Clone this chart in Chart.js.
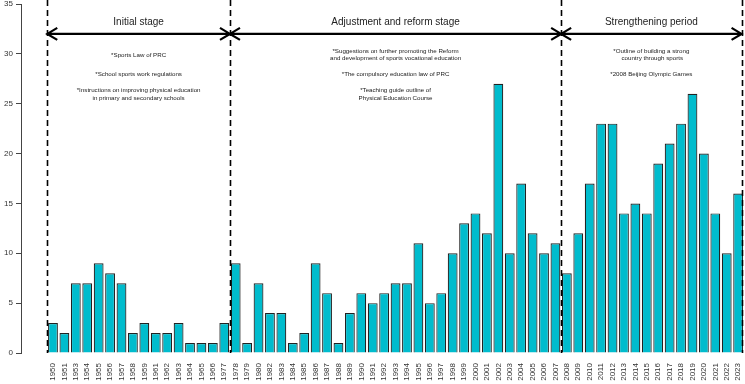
<!DOCTYPE html>
<html>
<head>
<meta charset="utf-8">
<script src="https://cdn.jsdelivr.net/npm/chart.js@4.4.0/dist/chart.umd.min.js"></script>
<style>
  html, body { margin: 0; padding: 0; background: #fff; }
  #wrap { width: 745px; height: 384px; position: relative; }
</style>
</head>
<body>
<div id="wrap"><canvas id="policyChart"></canvas></div>
<script>
// Years shown on the x axis (gaps in the record are skipped, as in the original)
const years = ['1950', '1951', '1953', '1954', '1955', '1956', '1957', '1958', '1959', '1961',
               '1962', '1963', '1964', '1965', '1966', '1977', '1978', '1979', '1980', '1982',
               '1983', '1984', '1985', '1986', '1987', '1988', '1989', '1990', '1991', '1992',
               '1993', '1994', '1995', '1996', '1997', '1998', '1999', '2000', '2001', '2002',
               '2003', '2004', '2005', '2006', '2007', '2008', '2009', '2010', '2011', '2012',
               '2013', '2014', '2015', '2016', '2017', '2018', '2019', '2020', '2021', '2022',
               '2023'];

const counts = [3, 2, 7, 7, 9, 8, 7, 2, 3, 2,
                2, 3, 1, 1, 1, 3, 9, 1, 7, 4,
                4, 1, 2, 9, 6, 1, 4, 6, 5, 6,
                7, 7, 11, 5, 6, 10, 13, 14, 12, 27,
                10, 17, 12, 10, 11, 8, 12, 17, 23, 23,
                14, 15, 14, 19, 21, 23, 26, 20, 14, 10,
                16];

const yTicks = [0, 5, 10, 15, 20, 25, 30, 35];

// Stage boundaries, in bar-index units (dashed lines)
const stageBounds = [-0.5, 15.5, 44.5, 60.3];
const stageArrowLevel = 32;
const stageNames = ['Initial stage', 'Adjustment and reform stage', 'Strengthening period'];
const stageNotes = [
    [['*Sports Law of PRC'],
     ['*School sports work regulations'],
     ['*Instructions on improving physical education', 'in primary and secondary schools']],
    [['*Suggestions on further promoting the Reform', 'and development of sports vocational education'],
     ['*The compulsory education law of PRC'],
     ['*Teaching guide outline of', 'Physical Education Course']],
    [['*Outline of building a strong', ' country through sports'],
     ['*2008 Beijing Olympic Games']]
];

const FONT = "'Liberation Sans', Arial, sans-serif";

// Draws dashed stage lines, double arrows and stage texts
const stagePlugin = {
    id: 'stages',
    afterDatasetsDraw(chart) {
        const ctx = chart.ctx;
        const x = chart.scales.x;
        const y = chart.scales.y;
        const bottom = chart.chartArea.bottom;
        const arrowY = y.getPixelForValue(stageArrowLevel);

        ctx.save();
        // dashed verticals
        ctx.strokeStyle = '#000';
        ctx.lineWidth = 1.6;
        ctx.setLineDash([6, 4]);
        stageBounds.forEach(b => {
            const px = Math.round(x.getPixelForValue(b)) + 0.5;
            ctx.beginPath();
            ctx.moveTo(px, 0);
            ctx.lineTo(px, bottom);
            ctx.stroke();
        });
        ctx.setLineDash([]);

        // arrows
        ctx.lineWidth = 2.2;
        for (let i = 0; i < stageNames.length; i++) {
            const x0 = x.getPixelForValue(stageBounds[i]);
            const x1 = x.getPixelForValue(stageBounds[i + 1]);
            ctx.beginPath();
            ctx.moveTo(x0, arrowY);
            ctx.lineTo(x1, arrowY);
            ctx.moveTo(x0 + 10, arrowY - 6);
            ctx.lineTo(x0, arrowY);
            ctx.lineTo(x0 + 10, arrowY + 6);
            ctx.moveTo(x1 - 10, arrowY - 6);
            ctx.lineTo(x1, arrowY);
            ctx.lineTo(x1 - 10, arrowY + 6);
            ctx.stroke();
        }

        // titles and notes
        ctx.fillStyle = '#222';
        ctx.textAlign = 'center';
        ctx.textBaseline = 'middle';
        const groupCentres = [55, 74.5, 94.5];
        for (let i = 0; i < stageNames.length; i++) {
            const cx = (x.getPixelForValue(stageBounds[i]) + x.getPixelForValue(stageBounds[i + 1])) / 2;
            ctx.font = '10px ' + FONT;
            ctx.fillText(stageNames[i], cx, 22);
            ctx.font = '6.2px ' + FONT;
            stageNotes[i].forEach((group, g) => {
                const start = groupCentres[g] - (group.length - 1) * 7.5 / 2;
                group.forEach((line, k) => ctx.fillText(line, cx, start + k * 7.5));
            });
        }
        ctx.restore();
    }
};

const ctx = document.getElementById('policyChart').getContext('2d');
new Chart(ctx, {
    type: 'bar',
    data: {
        datasets: [{
            data: counts.map((v, i) => ({ x: i, y: v })),
            backgroundColor: '#00BCCD',
            borderColor: '#222',
            borderWidth: 1.2,
            barPercentage: 0.86,
            categoryPercentage: 1
        }]
    },
    options: {
        responsive: true,
        maintainAspectRatio: false,
        animation: false,
        layout: { padding: { top: 4, right: 0, left: 0, bottom: 0 } },
        plugins: {
            legend: { display: false },
            tooltip: { enabled: false }
        },
        scales: {
            x: {
                type: 'linear',
                offset: false,
                min: -2.8,
                max: 60.6,
                afterBuildTicks: scale => {
                    scale.ticks = years.map((_, i) => ({ value: i }));
                },
                afterFit: scale => {
                    scale.height = 31;
                    scale.paddingLeft = 0;
                    scale.paddingRight = 0;
                },
                grid: { display: false },
                border: { display: false },
                ticks: {
                    autoSkip: false,
                    minRotation: 90,
                    maxRotation: 90,
                    padding: 2,
                    color: '#333',
                    font: { family: FONT, size: 8 },
                    callback: value => years[value]
                }
            },
            y: {
                min: 0,
                max: 35,
                afterBuildTicks: scale => {
                    scale.ticks = yTicks.map(v => ({ value: v }));
                },
                afterFit: scale => {
                    scale.width = 21;
                    scale.paddingTop = 0;
                    scale.paddingBottom = 0;
                },
                grid: {
                    drawOnChartArea: false,
                    drawTicks: true,
                    tickLength: 5,
                    color: '#444'
                },
                border: { display: true, color: '#444', width: 1 },
                ticks: {
                    padding: 3,
                    color: '#333',
                    font: { family: FONT, size: 8 }
                }
            }
        }
    },
    plugins: [stagePlugin]
});
</script>
</body>
</html>
